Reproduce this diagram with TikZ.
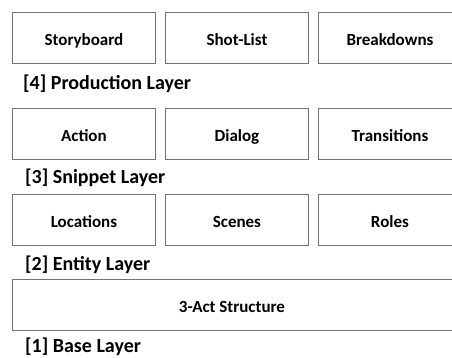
\documentclass[tikz,border=0pt]{standalone}
\usepackage{fontspec}
\setmainfont{Carlito}
\usetikzlibrary{shadows}
\begin{document}
\begin{tikzpicture}[x=1pt,y=-1pt,
  box/.style={draw=black!55, line width=0.9pt, fill=white, anchor=north west,
    minimum height=51pt, inner sep=0pt,
    drop shadow={shadow xshift=0.8pt, shadow yshift=-0.9pt, opacity=0.35}},
  cell/.style={box, minimum width=143pt},
  btxt/.style={font=\bfseries\fontsize{17}{20}\selectfont, text height=16pt, text depth=0pt},
  lbl/.style={font=\bfseries\fontsize{20}{24}\selectfont, anchor=base west, inner sep=0pt}]
\clip (0,0) rectangle (452,358);
\useasboundingbox (0,0) rectangle (452,358);
% row 4
\node[cell, btxt] (sb) at (12,12) {Storyboard};
\node[cell, btxt] (sl) at (165,12) {Shot-List};
\node[cell, btxt] (bd) at (318,12) {Breakdowns};
\node[lbl] (l4) at (23,90) {[4] Production Layer};
% row 3
\node[cell, btxt] (ac) at (12,108) {Action};
\node[cell, btxt] (dl) at (165,108) {Dialog};
\node[cell, btxt] (tr) at (318,108) {Transitions};
\node[lbl] (l3) at (25,184) {[3] Snippet Layer};
% row 2
\node[cell, btxt] (lo) at (12,194) {Locations};
\node[cell, btxt] (sc) at (165,194) {Scenes};
\node[cell, btxt] (ro) at (318,194) {Roles};
\node[lbl] (l2) at (25,270) {[2] Entity Layer};
% row 1
\node[box, minimum width=448pt] (base) at (12,279) {};
\node[btxt, inner sep=0pt] (bt) at (232,304) {3-Act Structure};
\node[lbl] (l1) at (25,352.5) {[1] Base Layer};
\end{tikzpicture}
\end{document}
